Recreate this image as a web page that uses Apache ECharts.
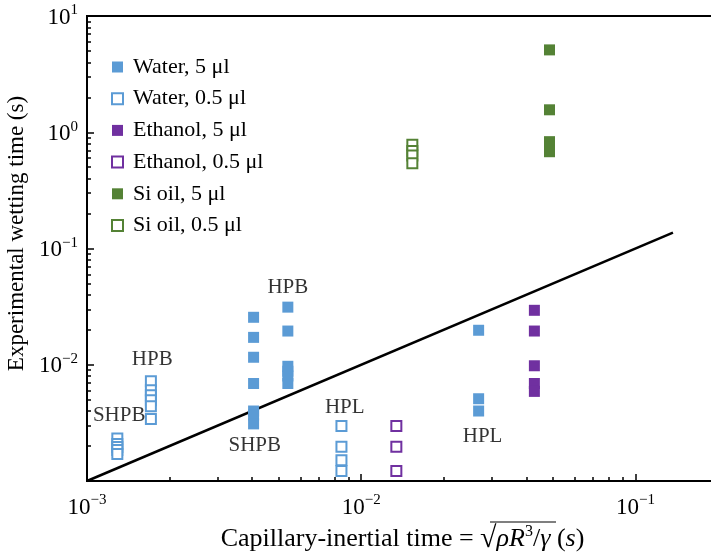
<!DOCTYPE html>
<html>
<head>
<meta charset="utf-8">
<script src="https://cdn.jsdelivr.net/npm/echarts@6.0.0/dist/echarts.min.js"></script>
<style>
html, body { margin: 0; padding: 0; background: #fff; }
#graph1 { width: 711px; height: 557px; }
</style>
</head>
<body>
<div id="graph1"></div>
<script>
// data: [capillary-inertial time, wetting time] in s
var water5 = [
    [0.00405, 0.0256], [0.00405, 0.0172], [0.00405, 0.0116], [0.00405, 0.0069],
    [0.00405, 0.0040], [0.00405, 0.0037], [0.00405, 0.0031],
    [0.0054, 0.0313], [0.0054, 0.0195], [0.0054, 0.0097], [0.0054, 0.0088],
    [0.0054, 0.0080], [0.0054, 0.0069],
    [0.0268, 0.0198], [0.0268, 0.0051], [0.0268, 0.0040]
];
var water05 = [
    [0.00129, 0.00232], [0.00129, 0.00208], [0.00129, 0.00196], [0.00129, 0.00185], [0.00129, 0.00171],
    [0.00171, 0.00722], [0.00171, 0.00604], [0.00171, 0.00547], [0.00171, 0.00496],
    [0.00171, 0.00440], [0.00171, 0.00341],
    [0.00847, 0.00297], [0.00847, 0.00197], [0.00847, 0.00151], [0.00847, 0.00122]
];
var ethanol5 = [
    [0.0428, 0.0294], [0.0428, 0.0195], [0.0428, 0.0098], [0.0428, 0.0069], [0.0428, 0.0059]
];
var ethanol05 = [
    [0.01343, 0.00297], [0.01343, 0.00197], [0.01343, 0.00122]
];
var sioil5 = [
    [0.0486, 5.11], [0.0486, 1.56], [0.0486, 0.83], [0.0486, 0.75], [0.0486, 0.68]
];
var sioil05 = [
    [0.01536, 0.78], [0.01536, 0.69], [0.01536, 0.63], [0.01536, 0.54]
];
// y = x reference line
var lineX = [0.001, 0.137];
// annotations
var notes = [
    { name: 'SHPB', value: [0.00131, 0.00368] },
    { name: 'HPB', value: [0.00173, 0.0111] },
    { name: 'HPB', value: [0.0054, 0.0462] },
    { name: 'SHPB', value: [0.00409, 0.00204] },
    { name: 'HPL', value: [0.00871, 0.00432] },
    { name: 'HPL', value: [0.0277, 0.00243] }
];
var seriesNames = ['Water, 5 \u03bcl', 'Water, 0.5 \u03bcl', 'Ethanol, 5 \u03bcl',
    'Ethanol, 0.5 \u03bcl', 'Si oil, 5 \u03bcl', 'Si oil, 0.5 \u03bcl'];
var xTicks = [0.001, 0.01, 0.1];
var yTicks = [0.01, 0.1, 1, 10];

var blue = '#5b9bd5', purple = '#7030a0', green = '#548235';
var font = 'Liberation Serif';

// log minor ticks 2..9 for each decade
function minorTicks(from, to) {
    var t = [];
    for (var e = from; e < to; e++) {
        for (var m = 2; m <= 9; m++) t.push(m * Math.pow(10, e));
    }
    return t;
}

function powLabel(v) {
    var e = Math.round(Math.log10(v));
    return '{b|10}{s|' + (e < 0 ? '\u2212' + (-e) : e) + '}';
}
var powRich = {
    b: { fontSize: 23, fontFamily: font, color: '#000', lineHeight: 26, verticalAlign: 'bottom' },
    s: { fontSize: 15, fontFamily: font, color: '#000', lineHeight: 15, verticalAlign: 'top' }
};

function filled(name, data, color) {
    return {
        name: name, type: 'scatter', data: data, symbol: 'rect', symbolSize: 11,
        itemStyle: { color: color, opacity: 1 }, z: 3
    };
}
function hollow(name, data, color) {
    return {
        name: name, type: 'scatter', data: data, symbol: 'rect', symbolSize: 10,
        itemStyle: { color: '#fff', borderColor: color, borderWidth: 2, opacity: 1 }, z: 3
    };
}

var option = {
    animation: false,
    backgroundColor: '#fff',
    textStyle: { fontFamily: font },
    grid: {
        left: 87, top: 16, right: -7, bottom: 76,
        containLabel: false, outerBoundsMode: 'none',
        show: true, borderColor: '#000', borderWidth: 2
    },
    legend: {
        orient: 'vertical', left: 106, top: 51, itemWidth: 11, itemHeight: 11, itemGap: 9.7,
        data: seriesNames,
        textStyle: { fontFamily: font, fontSize: 22, color: '#000', padding: [0, 0, 0, 5] }
    },
    xAxis: [
        {
            type: 'log', logBase: 10, min: 0.001, max: 0.2, position: 'bottom',
            name: 'Capillary-inertial time = {r|\u221a}{i|\u03c1R}{s|3}{n|/}{i|\u03b3} ({i|s})',
            nameLocation: 'middle', nameGap: 42,
            nameTextStyle: {
                fontFamily: font, fontSize: 26, color: '#000',
                rich: {
                    r: { fontSize: 30, fontFamily: font, color: '#000' },
                    i: { fontSize: 26, fontFamily: font, fontStyle: 'italic', color: '#000' },
                    n: { fontSize: 26, fontFamily: font, color: '#000' },
                    s: { fontSize: 16, fontFamily: font, color: '#000', verticalAlign: 'top' }
                }
            },
            axisLine: { onZero: false, lineStyle: { color: '#000', width: 2 } },
            axisTick: { inside: true, length: 7, customValues: xTicks, lineStyle: { color: '#000', width: 1.5 } },
            axisLabel: { customValues: xTicks, formatter: powLabel, rich: powRich, margin: 12 },
            splitLine: { show: false }
        },
        {
            type: 'log', logBase: 10, min: 0.001, max: 0.2, position: 'bottom',
            axisLine: { show: false },
            axisTick: { inside: true, length: 4, customValues: minorTicks(-3, 0).concat([0.2]), lineStyle: { color: '#000', width: 1.5 } },
            axisLabel: { show: false },
            splitLine: { show: false }
        }
    ],
    yAxis: [
        {
            type: 'log', logBase: 10, min: 0.001, max: 10, position: 'left',
            name: 'Experimental wetting time (s)',
            nameLocation: 'middle', nameGap: 56, nameRotate: 90,
            nameTextStyle: { fontFamily: font, fontSize: 23, color: '#000', padding: [0, 0, 0, 30] },
            axisLine: { onZero: false, lineStyle: { color: '#000', width: 2 } },
            axisTick: { inside: true, length: 7, customValues: yTicks, lineStyle: { color: '#000', width: 1.5 } },
            axisLabel: { customValues: yTicks, formatter: powLabel, rich: powRich, margin: 9 },
            splitLine: { show: false }
        },
        {
            type: 'log', logBase: 10, min: 0.001, max: 10, position: 'left',
            axisLine: { show: false },
            axisTick: { inside: true, length: 4, customValues: minorTicks(-3, 1), lineStyle: { color: '#000', width: 1.5 } },
            axisLabel: { show: false },
            splitLine: { show: false }
        }
    ],
    series: [
        filled(seriesNames[0], water5, blue),
        hollow(seriesNames[1], water05, blue),
        filled(seriesNames[2], ethanol5, purple),
        hollow(seriesNames[3], ethanol05, purple),
        filled(seriesNames[4], sioil5, green),
        hollow(seriesNames[5], sioil05, green),
        {
            name: 'y = x', type: 'line', data: lineX.map(function (v) { return [v, v]; }),
            symbol: 'none', lineStyle: { color: '#000', width: 2.5 }, z: 2
        },
        {
            name: 'notes', type: 'scatter', data: notes, symbolSize: 0,
            label: {
                show: true, position: 'inside', formatter: '{b}',
                fontFamily: font, fontSize: 21, color: '#000'
            }, z: 4
        }
    ]
};

var myChart = echarts.init(document.getElementById('graph1'));
myChart.setOption(option);

// overline of the square root in the x axis title
myChart.setOption({
    graphic: [{
        type: 'line', shape: { x1: 490, y1: 522, x2: 556, y2: 522 },
        style: { stroke: '#000', lineWidth: 1.2 }
    }]
});
</script>
</body>
</html>
